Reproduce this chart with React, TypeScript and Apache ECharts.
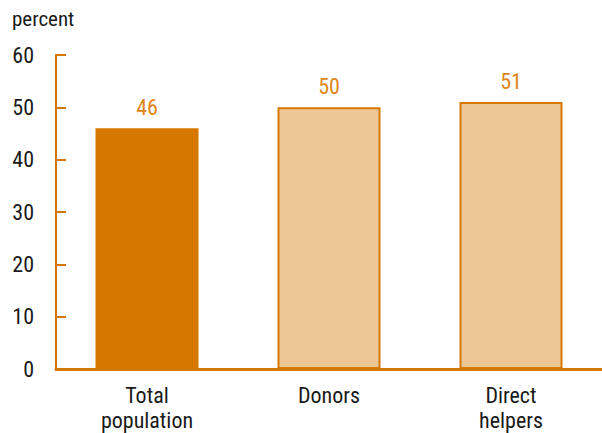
import React, { useEffect, useRef } from "react";
import * as echarts from "echarts";

const categories = ["Total\npopulation", "Donors", "Direct\nhelpers"];
const values = [46, 50, 51];
const yTicks = [0, 10, 20, 30, 40, 50, 60];

const ORANGE = "#D67800";
const LIGHT = "#EDC896";
const FONT = "'Roboto Condensed', 'Roboto', sans-serif";

export default function App() {
  const ref = useRef<HTMLDivElement>(null);
  useEffect(() => {
    const chart = echarts.init(ref.current!, undefined, { renderer: "svg" });
    chart.setOption({
      animation: false,
      grid: { left: 56, width: 551, top: 55, bottom: 64, containLabel: false },
      graphic: [
        {
          type: "text",
          left: 12,
          top: 8,
          style: { text: "percent", font: `21px ${FONT}`, fill: "#1a1a1a" },
        },
      ],
      xAxis: {
        type: "category",
        data: categories,
        axisLine: { lineStyle: { color: ORANGE, width: 3 } },
        axisTick: { show: false },
        axisLabel: {
          color: "#1a1a1a",
          fontFamily: FONT,
          fontSize: 22,
          lineHeight: 25,
          margin: 14,
        },
      },
      yAxis: {
        type: "value",
        min: yTicks[0],
        max: yTicks[yTicks.length - 1],
        interval: 10,
        splitLine: { show: false },
        axisLine: { show: true, lineStyle: { color: ORANGE, width: 2 } },
        axisTick: { show: true, inside: true, length: 10, lineStyle: { color: ORANGE, width: 2 } },
        axisLabel: {
          color: "#1a1a1a",
          fontFamily: FONT,
          fontSize: 22,
          margin: 22,
        },
      },
      series: [
        {
          type: "bar",
          barWidth: 103,
          data: values.map((v, i) => ({
            value: v,
            itemStyle:
              i === 0
                ? { color: ORANGE }
                : { color: LIGHT, borderColor: ORANGE, borderWidth: 2 },
          })),
          label: {
            show: true,
            position: "top",
            distance: 10,
            color: "#DE8519",
            fontFamily: FONT,
            fontSize: 22,
          },
        },
      ],
    });
    return () => chart.dispose();
  }, []);
  return <div ref={ref} style={{ width: 602, height: 433, position: "absolute", left: 0, top: 0 }} />;
}
